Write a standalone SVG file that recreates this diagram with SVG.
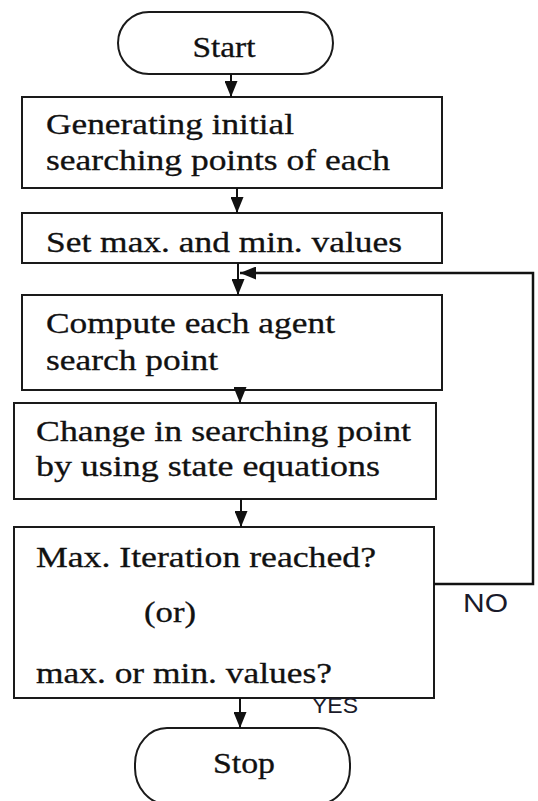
<svg xmlns="http://www.w3.org/2000/svg" width="538" height="801" viewBox="0 0 538 801">
<style>
.box{fill:#fff;stroke:#1a1a1a;stroke-width:2}
.t{font-size:29px;fill:#111;stroke:#111;stroke-width:0.3}
.lbl{fill:#1a1a2a}
.con{fill:none;stroke:#111;stroke-width:2}
.loop{fill:none;stroke:#111;stroke-width:2.5}
</style>
<defs>
<marker id="ah" viewBox="0 0 16 13" refX="16" refY="6.5" markerWidth="16" markerHeight="13" markerUnits="userSpaceOnUse" orient="auto">
<path d="M0,0 L16,6.5 L0,13 Z" fill="#111"/>
</marker>
</defs>
<rect width="538" height="801" fill="#fff"/>
<g font-family="'Liberation Serif', 'Times New Roman', serif">
<g id="start">
<rect class="box" x="118" y="12" width="215" height="62" rx="31" ry="31"/>
<text class="t" x="224" y="57" text-anchor="middle" textLength="63" lengthAdjust="spacingAndGlyphs">Start</text>
</g>
<g id="generate">
<rect class="box" x="22" y="97" width="420" height="91"/>
<text class="t" x="46" y="134" textLength="248" lengthAdjust="spacingAndGlyphs">Generating initial</text>
<text class="t" x="46" y="170" textLength="344" lengthAdjust="spacingAndGlyphs">searching points of each</text>
</g>
<g id="setvalues">
<rect class="box" x="22" y="213" width="420" height="50"/>
<text class="t" x="46" y="252" textLength="356" lengthAdjust="spacingAndGlyphs">Set max. and min. values</text>
</g>
<g id="compute">
<rect class="box" x="22" y="295" width="420" height="95"/>
<text class="t" x="46" y="333" textLength="289" lengthAdjust="spacingAndGlyphs">Compute each agent</text>
<text class="t" x="46" y="370" textLength="172" lengthAdjust="spacingAndGlyphs">search point</text>
</g>
<g id="change">
<rect class="box" x="14" y="403" width="422" height="96"/>
<text class="t" x="36" y="441" textLength="375" lengthAdjust="spacingAndGlyphs">Change in searching point</text>
<text class="t" x="36" y="476" textLength="344" lengthAdjust="spacingAndGlyphs">by using state equations</text>
</g>
<g id="decision">
<rect class="box" x="14" y="527" width="420" height="171"/>
<text class="t" x="36" y="567" textLength="340" lengthAdjust="spacingAndGlyphs">Max. Iteration reached?</text>
<text class="t" x="144" y="622" textLength="52" lengthAdjust="spacingAndGlyphs">(or)</text>
<text class="t" x="36" y="683" textLength="296" lengthAdjust="spacingAndGlyphs">max. or min. values?</text>
</g>
<g id="stop">
<rect class="box" x="135" y="728" width="215" height="76" rx="32" ry="36"/>
<text class="t" x="244" y="773" text-anchor="middle" textLength="62" lengthAdjust="spacingAndGlyphs">Stop</text>
</g>
</g>
<g id="connectors">
<line class="con" x1="231" y1="74" x2="231" y2="97" marker-end="url(#ah)"/>
<line class="con" x1="237" y1="188" x2="237" y2="213" marker-end="url(#ah)"/>
<line class="con" x1="238" y1="263" x2="238" y2="295" marker-end="url(#ah)"/>
<line class="con" x1="240" y1="390" x2="240" y2="403" marker-end="url(#ah)"/>
<line class="con" x1="241" y1="499" x2="241" y2="527" marker-end="url(#ah)"/>
<line class="con" x1="240" y1="698" x2="240" y2="728" marker-end="url(#ah)"/>
<path class="loop" d="M434,584 L533,584 L533,273 L240,273" marker-end="url(#ah)"/>
<g font-family="'Liberation Sans', Arial, sans-serif">
<text class="lbl" x="463" y="612" font-size="26" textLength="45" lengthAdjust="spacingAndGlyphs">NO</text>
<text class="lbl" x="312" y="713" font-size="22" textLength="46" lengthAdjust="spacingAndGlyphs">YES</text>
</g>
</g>
</svg>
